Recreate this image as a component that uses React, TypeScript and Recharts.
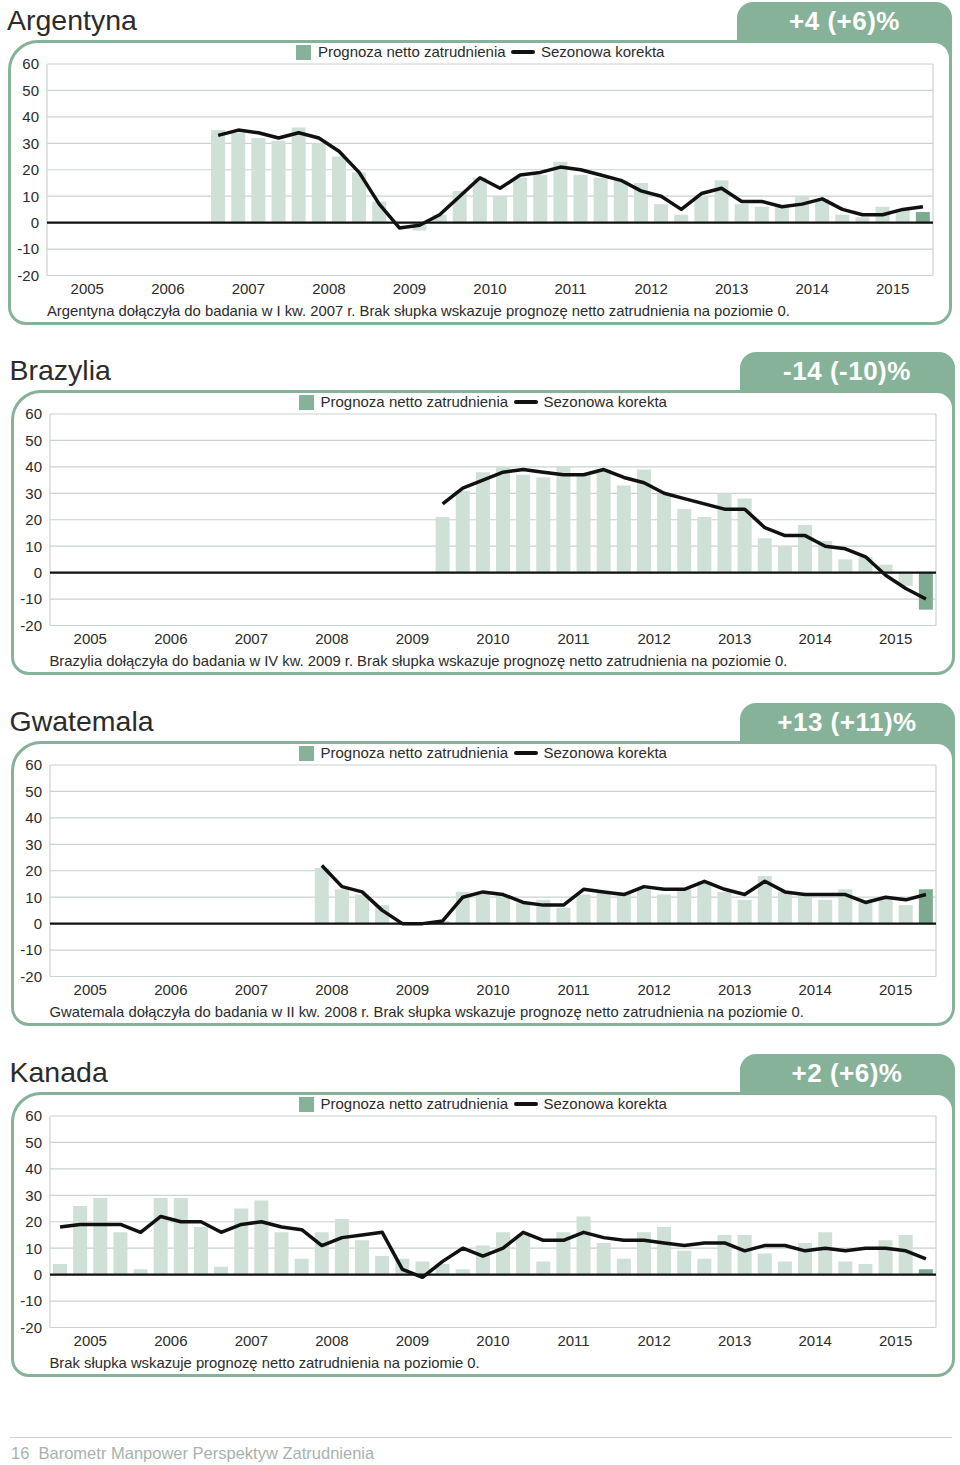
import React from 'react';
import { Bar, CartesianGrid, Cell, ComposedChart, Line, ReferenceLine, XAxis, YAxis } from 'recharts';

const FONT = '"Liberation Sans", Arial, Helvetica, sans-serif';
const GREEN = '#86b29a';
const BAR = '#cfe0d6';
const BAR_LAST = '#7daa90';
const GRID = '#c9d3cf';
const INK = '#2b2b2b';

const years = ['2005', '2006', '2007', '2008', '2009', '2010', '2011', '2012', '2013', '2014', '2015'];
const yTicks = [-20, -10, 0, 10, 20, 30, 40, 50, 60];
const gridTicks = [0, 4, 8, 12, 16, 20, 24, 28, 32, 36, 40, 44];
const yearTicks = [2, 6, 10, 14, 18, 22, 26, 30, 34, 38, 42];

// quarterly values, first value = start quarter (0 = I kw. 2005)
const argStart = 8;
const argBars = [35, 34, 32, 31, 36, 30, 25, 19, 8, 0, -3, 3, 12, 17, 10, 17, 18, 23, 18, 17, 16, 15, 7, 3, 10, 16, 7, 6, 6, 10, 9, 3, 2, 6, 5, 4];
const argLine = [33, 35, 34, 32, 34, 32, 27, 19, 7, -2, -1, 3, 10, 17, 13, 18, 19, 21, 20, 18, 16, 12, 10, 5, 11, 13, 8, 8, 6, 7, 9, 5, 3, 3, 5, 6];

const braStart = 19;
const braBars = [21, 31, 38, 40, 37, 36, 40, 37, 39, 33, 39, 30, 24, 21, 30, 28, 13, 10, 18, 12, 5, 6, 3, -5, -14];
const braLine = [26, 32, 35, 38, 39, 38, 37, 37, 39, 36, 34, 30, 28, 26, 24, 24, 17, 14, 14, 10, 9, 6, -1, -6, -10];

const gwaStart = 13;
const gwaBars = [21, 13, 11, 7, 0, 0, 1, 12, 12, 11, 8, 9, 6, 11, 12, 12, 13, 11, 13, 16, 12, 9, 18, 12, 11, 9, 13, 8, 10, 7, 13];
const gwaLine = [22, 14, 12, 5, 0, 0, 1, 10, 12, 11, 8, 7, 7, 13, 12, 11, 14, 13, 13, 16, 13, 11, 16, 12, 11, 11, 11, 8, 10, 9, 11];

const kanStart = 0;
const kanBars = [4, 26, 29, 16, 2, 29, 29, 18, 3, 25, 28, 16, 6, 16, 21, 13, 7, 6, 5, 4, 2, 11, 16, 15, 5, 16, 22, 12, 6, 16, 18, 9, 6, 15, 15, 8, 5, 12, 16, 5, 4, 13, 15, 2];
const kanLine = [18, 19, 19, 19, 16, 22, 20, 20, 16, 19, 20, 18, 17, 11, 14, 15, 16, 2, -1, 5, 10, 7, 10, 16, 13, 13, 16, 14, 13, 13, 12, 11, 12, 12, 9, 11, 11, 9, 10, 9, 10, 10, 9, 6];

const NOTE_ZERO = 'Brak słupka wskazuje prognozę netto zatrudnienia na poziomie 0.';

interface PanelProps {
    top: number;
    dx: number;
    title: string;
    badge: string;
    note: string;
    start: number;
    bars: number[];
    line: number[];
}

const Panel = ({ top, dx, title, badge, note, start, bars, line }: PanelProps) => {
    const data = Array.from({ length: 44 }, (_, i) => ({
        x: i + 0.5,
        bar: i >= start ? bars[i - start] : null,
        sk: i >= start ? line[i - start] : null,
    }));

    return (
        <div style={{ position: 'absolute', left: 0, top, width: 960, height: 340 }}>
            <div style={{ position: 'absolute', left: 7 + dx, top: 6, fontSize: 28.5, lineHeight: '28px', color: INK }}>{title}</div>
            <div style={{ position: 'absolute', left: 737 + dx, top: 2, width: 215, height: 70, background: GREEN, borderRadius: '16px 16px 0 0' }} />
            <div style={{ position: 'absolute', left: 737 + dx, top: 2, width: 215, height: 38, color: '#fff', fontWeight: 'bold', fontSize: 26, lineHeight: '38px', textAlign: 'center', letterSpacing: 0.5 }}>{badge}</div>
            <div style={{ position: 'absolute', left: 8 + dx, top: 40, width: 944, height: 285, boxSizing: 'border-box', border: `3px solid ${GREEN}`, borderRadius: '30px 18px 18px 18px', background: '#fff' }} />

            <div style={{ position: 'absolute', left: 296 + dx, top: 45, width: 15, height: 15, background: GREEN }} />
            <div style={{ position: 'absolute', left: 318 + dx, top: 44, fontSize: 15, lineHeight: '16px', color: INK }}>Prognoza netto zatrudnienia</div>
            <div style={{ position: 'absolute', left: 511 + dx, top: 50, width: 24, height: 4, borderRadius: 2, background: '#111' }} />
            <div style={{ position: 'absolute', left: 541 + dx, top: 44, fontSize: 15, lineHeight: '16px', color: INK }}>Sezonowa korekta</div>

            <div style={{ position: 'absolute', left: dx, top: 0 }}>
                <ComposedChart width={960} height={306} data={data} margin={{ top: 64, right: 27, left: 0, bottom: 0 }}>
                    <CartesianGrid stroke={GRID} strokeWidth={1.2} />
                    <XAxis type="number" dataKey="x" domain={[0, 44]} ticks={gridTicks} allowDataOverflow tick={false} axisLine={false} tickLine={false} height={0} />
                    <XAxis
                        xAxisId="yr"
                        type="number"
                        dataKey="x"
                        domain={[0, 44]}
                        ticks={yearTicks}
                        interval={0}
                        tickFormatter={(v: number) => years[(v - 2) / 4]}
                        axisLine={false}
                        tickLine={false}
                        height={30.5}
                        tick={{ fontSize: 15, fill: INK }}
                    />
                    <YAxis type="number" domain={[-20, 60]} ticks={yTicks} interval={0} axisLine={false} tickLine={false} width={47} tick={{ fontSize: 15, fill: INK }} />
                    <Bar dataKey="bar" barSize={14} fill={BAR} isAnimationActive={false}>
                        {data.map((d, i) => (
                            <Cell key={i} fill={i === 43 ? BAR_LAST : BAR} />
                        ))}
                    </Bar>
                    <ReferenceLine y={0} stroke="#111" strokeWidth={2.2} />
                    <Line dataKey="sk" type="linear" stroke="#111" strokeWidth={3.5} dot={false} activeDot={false} strokeLinejoin="round" isAnimationActive={false} />
                </ComposedChart>
            </div>

            <div style={{ position: 'absolute', left: 47 + dx, top: 304, fontSize: 14.8, lineHeight: '15px', color: INK }}>{note}</div>
        </div>
    );
};

const App = () => {
    return (
        <div style={{ position: 'absolute', left: 0, top: 0, width: 960, height: 1465, background: '#fff', fontFamily: FONT, overflow: 'hidden' }}>
            <Panel top={0} dx={0} title="Argentyna" badge="+4 (+6)%" start={argStart} bars={argBars} line={argLine}
                note={`Argentyna dołączyła do badania w I kw. 2007 r. ${NOTE_ZERO}`} />
            <Panel top={350} dx={2.5} title="Brazylia" badge="-14 (-10)%" start={braStart} bars={braBars} line={braLine}
                note={`Brazylia dołączyła do badania w IV kw. 2009 r. ${NOTE_ZERO}`} />
            <Panel top={701} dx={2.5} title="Gwatemala" badge="+13 (+11)%" start={gwaStart} bars={gwaBars} line={gwaLine}
                note={`Gwatemala dołączyła do badania w II kw. 2008 r. ${NOTE_ZERO}`} />
            <Panel top={1052} dx={2.5} title="Kanada" badge="+2 (+6)%" start={kanStart} bars={kanBars} line={kanLine}
                note={NOTE_ZERO} />

            <div style={{ position: 'absolute', left: 10, top: 1437, width: 942, height: 1, background: '#cdd5d1' }} />
            <div style={{ position: 'absolute', left: 11, top: 1445, fontSize: 16.5, lineHeight: '17px', color: '#a7b3ae', whiteSpace: 'pre' }}>16  Barometr Manpower Perspektyw Zatrudnienia</div>
        </div>
    );
};

export default App;
